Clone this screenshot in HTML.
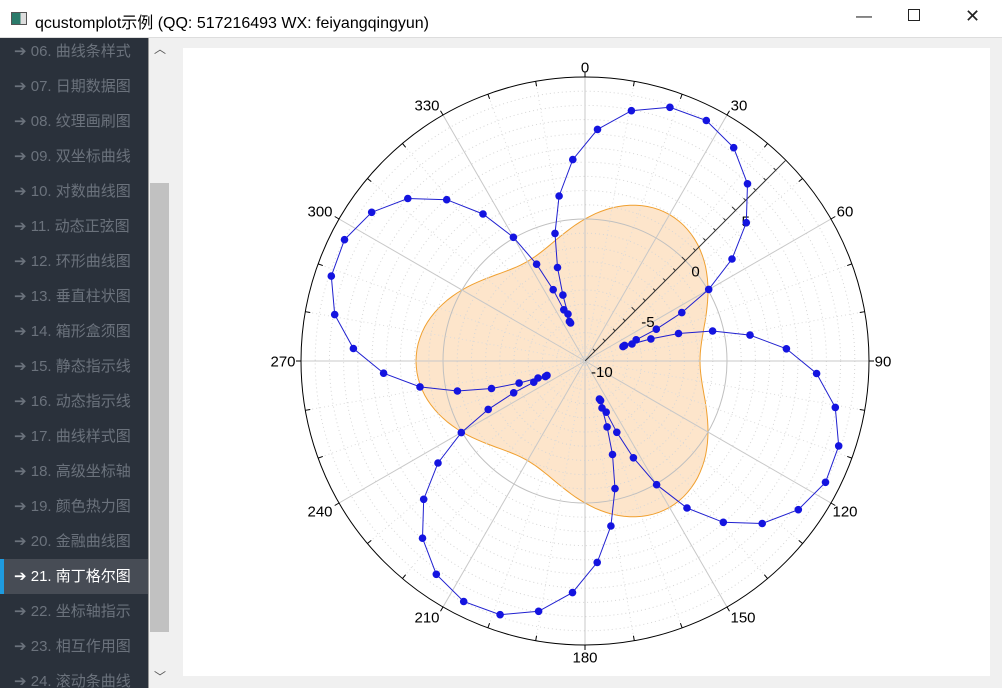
<!DOCTYPE html>
<html><head><meta charset="utf-8">
<style>
body{margin:0;width:1002px;height:688px;overflow:hidden;background:#f0f0f0;font-family:"Liberation Sans","Noto Sans CJK SC",sans-serif;position:relative}
#title{position:absolute;left:0;top:0;width:1002px;height:37px;background:#fff;border-bottom:1px solid #ddd}
#title .t{position:absolute;left:35px;top:9px;font-size:16px;color:#000}
#title .ic{position:absolute;left:11px;top:12px;width:14px;height:11px;border:1px solid #555;background:linear-gradient(90deg,#2a7a6a 60%,#ddd 60%)}
.wb{position:absolute;top:8px;font-size:16px;color:#222}
#side{position:absolute;left:0;top:38px;width:148px;height:650px;background:#2a313b;overflow:hidden}
.it{position:absolute;left:0;width:148px;height:35px;line-height:35px;font-size:15px;color:#6b727c;padding-left:14px;box-sizing:border-box;white-space:nowrap}
.it.sel{background:#474c55;color:#fff;border-left:4px solid #1e9be0;padding-left:10px}
#sb{position:absolute;left:148px;top:38px;width:22px;height:650px;background:#f0f0f0;border-left:1px solid #999}
#thumb{position:absolute;left:150px;top:183px;width:19px;height:449px;background:#c1c1c1}
#plot{position:absolute;left:183px;top:48px;width:807px;height:628px;background:#fff}
</style></head><body>
<div id="title"><div class="ic"></div><div class="t">qcustomplot示例 (QQ: 517216493 WX: feiyangqingyun)</div>
<div class="wb" style="left:856px">—</div><div class="wb" style="left:908px;top:9px;width:10px;height:10px;border:1px solid #222"></div><div class="wb" style="left:965px;top:6px;font-size:18px">✕</div></div>
<div id="side"></div>
<div id="sb"><div style="position:absolute;left:5px;top:2px;font-size:12px;color:#555">︿</div><div style="position:absolute;left:5px;top:630px;font-size:12px;color:#555">﹀</div></div>
<div id="thumb"></div>
<div id="plot"></div>
<svg id="svg" width="1002" height="688" style="position:absolute;left:0;top:0" font-family="Liberation Sans, sans-serif" font-size="15"></svg>
<script>
var names=["06. 曲线条样式","07. 日期数据图","08. 纹理画刷图","09. 双坐标曲线","10. 对数曲线图","11. 动态正弦图","12. 环形曲线图","13. 垂直柱状图","14. 箱形盒须图","15. 静态指示线","16. 动态指示线","17. 曲线样式图","18. 高级坐标轴","19. 颜色热力图","20. 金融曲线图","21. 南丁格尔图","22. 坐标轴指示","23. 相互作用图","24. 滚动条曲线"];
var s="";names.forEach(function(n,i){s+='<div class="it'+(i==15?' sel':'')+'" style="top:'+(i*35-4)+'px">➔ '+n+'</div>';});
document.getElementById('side').innerHTML=s;
var cx=585,cy=361,R=284,o="";
function P(a,r){var t=a*Math.PI/180;return [cx+r*Math.sin(t),cy-r*Math.cos(t)];}
var d="";for(var a=0;a<=360;a+=2){var r=142+27*Math.cos(3*(a-30)*Math.PI/180);var p=P(a,r);d+=(a?"L":"M")+p[0].toFixed(1)+","+p[1].toFixed(1);}
o+='<path d="'+d+'Z" fill="#fde5cb" stroke="#f0a030" stroke-width="1"/>';
for(var u=1;u<20;u++){if(u==10)continue;o+='<circle cx="'+cx+'" cy="'+cy+'" r="'+(u*14.2)+'" fill="none" stroke="#d6d6d6" stroke-width="1" stroke-dasharray="1,3"/>';}
o+='<circle cx="'+cx+'" cy="'+cy+'" r="142" fill="none" stroke="#c0c0c0"/>';
for(var a=0;a<360;a+=10){var p=P(a,R);if(a%30==0)o+='<line x1="'+cx+'" y1="'+cy+'" x2="'+p[0]+'" y2="'+p[1]+'" stroke="#c8c8c8"/>';else o+='<line x1="'+cx+'" y1="'+cy+'" x2="'+p[0]+'" y2="'+p[1]+'" stroke="#dcdcdc" stroke-dasharray="1,3"/>';}
o+='<circle cx="'+cx+'" cy="'+cy+'" r="'+R+'" fill="none" stroke="#000"/>';
var lp={0:[585,67],30:[739,105],60:[845,211],90:[883,361],120:[845,511],150:[743,617],180:[585,657],210:[427,617],240:[320,511],270:[283,361],300:[320,211],330:[427,105]};
for(var a=0;a<360;a+=10){var p1=P(a,R),p2=P(a,a%30==0?R+5:R-5);o+='<line x1="'+p1[0]+'" y1="'+p1[1]+'" x2="'+p2[0]+'" y2="'+p2[1]+'" stroke="#000"/>';
if(a%30==0){var q=lp[a];o+='<text x="'+q[0]+'" y="'+(q[1]+5.5)+'" text-anchor="middle">'+a+'</text>';}}
var pe=P(45,R);o+='<line x1="'+cx+'" y1="'+cy+'" x2="'+pe[0]+'" y2="'+pe[1]+'" stroke="#333"/>';
for(var u=1;u<20;u++){var p=P(45,u*14.2),L=(u%5==0)?5:3;var dx=L*0.707,dy=L*0.707;o+='<line x1="'+(p[0]-dx)+'" y1="'+(p[1]-dy)+'" x2="'+(p[0])+'" y2="'+(p[1])+'" stroke="#333"/>';}
[[-10,0],[-5,71],[0,142],[5,213]].forEach(function(v){var p=P(45,v[1]);o+='<text x="'+(p[0]+6)+'" y="'+(p[1]+16)+'">'+v[0]+'</text>';});
var pts=[];for(var t=0;t<360;t+=4.5){var ph=(t-21)*Math.PI/180;var th=t+3+12*Math.sin(4*ph);var r=40+230*(1+Math.cos(4*ph))/2;pts.push(P(th,r));}
var pd=pts.map(function(p,i){return (i?"L":"M")+p[0].toFixed(1)+","+p[1].toFixed(1);}).join("");
o+='<path d="'+pd+'Z" fill="none" stroke="#2020d0" stroke-width="1"/>';
pts.forEach(function(p){o+='<circle cx="'+p[0].toFixed(1)+'" cy="'+p[1].toFixed(1)+'" r="3.8" fill="#1414e0"/>';});
document.getElementById('svg').innerHTML=o;
</script>
</body></html>
